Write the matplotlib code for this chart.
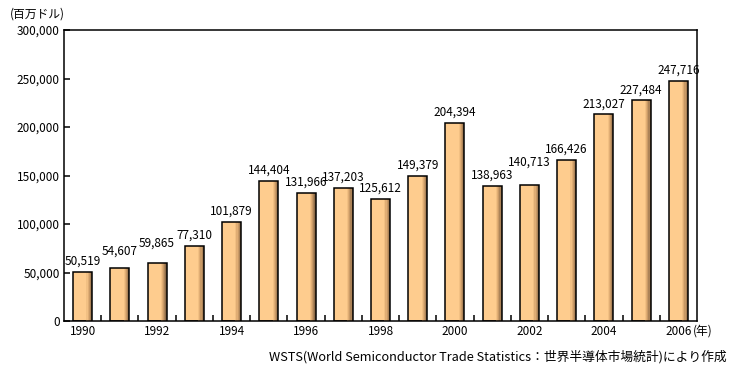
import numpy as np
import matplotlib
matplotlib.use("Agg")
import matplotlib.pyplot as plt

plt.rcParams['font.family'] = ['Noto Sans CJK JP', 'DejaVu Sans']

years = [1990, 1991, 1992, 1993, 1994, 1995, 1996, 1997, 1998, 1999,
         2000, 2001, 2002, 2003, 2004, 2005, 2006]
values = [50519, 54607, 59865, 77310, 101879, 144404, 131966, 137203, 125612,
          149379, 204394, 138963, 140713, 166426, 213027, 227484, 247716]
year_labels = ["1990", "", "1992", "", "1994", "", "1996", "", "1998", "",
               "2000", "", "2002", "", "2004", "", "2006"]
yticks = [0, 50000, 100000, 150000, 200000, 250000, 300000]

# 重なり回避のためのラベル持ち上げ (points)
label_lift = {1991: 4.3, 1992: 6.5, 2002: 8.6}

fig = plt.figure(figsize=(7.29, 3.78), dpi=100)
ax = fig.add_axes([0.0878, 0.1508, 0.8683, 0.7698])

x = np.arange(len(values))
w = 0.51

# グラデーション風: 明るいオレンジ + 右側に暗い帯
ax.bar(x, values, width=w, color="#FECC8E", edgecolor="none", zorder=2)
shades = ["#F2C083", "#E0AD74", "#C99A66", "#AC8358", "#8E6C48"]
sw = w * 0.06
for i, c in enumerate(shades):
    off = w / 2 - sw * (len(shades) - i) + sw / 2
    ax.bar(x + off, values, width=sw, color=c, edgecolor="none", zorder=3)
ax.bar(x, values, width=w, color="none", edgecolor="black", linewidth=1.1, zorder=4)

for xi, yr, v in zip(x, years, values):
    ax.annotate(f"{v:,}", (xi, v), xytext=(0, 3 + label_lift.get(yr, 0)),
                textcoords="offset points", ha="center", va="bottom", fontsize=8.5)

ax.set_xlim(-0.5, len(values) - 0.5)
ax.set_ylim(0, 300000)
ax.set_yticks(yticks)
ax.set_yticklabels([f"{t:,}" for t in yticks], fontsize=8.5)
ax.set_xticks(x)
ax.set_xticklabels(year_labels, fontsize=8.5)
ax.tick_params(axis="x", length=0, pad=3)
ax.set_xticks(x[:-1] + 0.5, minor=True)
ax.tick_params(axis="x", which="minor", direction="in", length=4, width=1.1)
ax.tick_params(axis="y", direction="in", length=4, width=1.1, pad=3)
for s in ax.spines.values():
    s.set_linewidth(1.1)

fig.text(0.013, 0.963, "(百万ドル)", fontsize=8.5, ha="left", va="center")
ax.annotate("(年)", xy=(1.0, 0), xycoords="axes fraction", xytext=(4, -7.5),
            textcoords="offset points", ha="center", va="center", fontsize=8.5)
fig.text(0.997, 0.055, "WSTS(World Semiconductor Trade Statistics：世界半導体市場統計)により作成",
         fontsize=9.2, ha="right", va="center")

fig.savefig("out.png", dpi=100)
